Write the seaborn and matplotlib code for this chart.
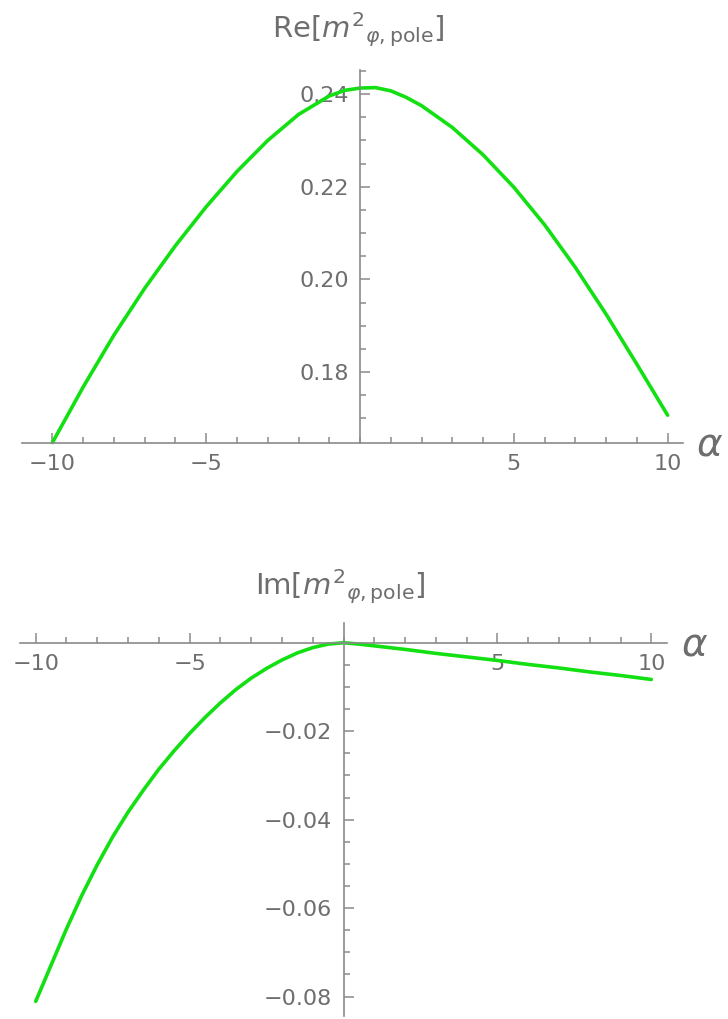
import numpy as np
import seaborn as sns
import matplotlib.pyplot as plt
from matplotlib.ticker import FixedLocator

# values
alpha_re = [-10, -9, -8, -7, -6, -5, -4, -3, -2, -1, -0.5, 0, 0.5, 1, 1.5, 2,
            3, 4, 5, 6, 7, 8, 9, 10]
re_pole = [0.1648, 0.1768, 0.1880, 0.1981, 0.2073, 0.2157, 0.2233, 0.2300, 0.2356, 0.2396,
           0.2408, 0.2413, 0.2414, 0.2407, 0.2393, 0.2375, 0.2328, 0.2269, 0.2199, 0.2118,
           0.2026, 0.1925, 0.1817, 0.1707]

alpha_im = [-10, -9.5, -9, -8.5, -8, -7.5, -7, -6.5, -6, -5.5, -5, -4.5, -4, -3.5, -3, -2.5,
            -2, -1.5, -1, -0.5, 0, 0.5, 1, 2, 3, 4, 5, 6, 7, 8, 9, 10]
im_pole = [-0.0811, -0.0729, -0.0647, -0.0571, -0.0502, -0.0439, -0.0383, -0.0333, -0.0286,
           -0.0244, -0.0205, -0.0169, -0.0136, -0.0106, -0.0080, -0.0058, -0.0039, -0.0023,
           -0.0011, -0.0003, 0.0, -0.0003, -0.0007, -0.0015, -0.0024, -0.0032, -0.0040,
           -0.0049, -0.0057, -0.0066, -0.0074, -0.0083]

x_major = [-10, -5, 5, 10]
x_labels = ['\u221210', '\u22125', '5', '10']
re_ticks = [0.18, 0.20, 0.22, 0.24]
im_ticks = [-0.02, -0.04, -0.06, -0.08]

sns.set_style('white')
plt.rcParams['font.family'] = ['DejaVu Sans']
plt.rcParams['mathtext.fontset'] = 'dejavusans'

axcol = '#8a8a8a'
txtcol = '#6e6e6e'
green = '#12e012'
W, H = 728, 1019

fig = plt.figure(figsize=(W / 100, H / 100), dpi=100)

def style_axes(ax):
    for s in ['top', 'right']:
        ax.spines[s].set_visible(False)
    for s in ['left', 'bottom']:
        ax.spines[s].set_color(axcol)
        ax.spines[s].set_linewidth(1.2)
    ax.spines['left'].set_position(('data', 0))
    ax.tick_params(which='both', direction='in', color=axcol, width=1.1,
                   bottom=True, left=True, labelcolor=txtcol, labelsize=16)
    ax.tick_params(which='major', length=7)
    ax.tick_params(which='minor', length=4)
    ax.tick_params(axis='x', pad=8)
    ax.tick_params(axis='y', pad=8)
    ax.xaxis.set_major_locator(FixedLocator(x_major))
    ax.set_xticklabels(x_labels)
    ax.xaxis.set_minor_locator(FixedLocator(list(range(-10, 11))))
    ax.set_xlabel('')
    ax.set_ylabel('')
    ax.patch.set_alpha(0)

# top panel: real part
ax1 = fig.add_axes([22 / W, 1 - 443 / H, 661 / W, 373 / H])
sns.lineplot(x=alpha_re, y=re_pole, ax=ax1, color=green, lw=2.6, clip_on=False)
ax1.set_xlim(-10.99, 10.5)
ax1.set_ylim(0.1647, 0.2452)
style_axes(ax1)
ax1.set_yticks(re_ticks, ['%.2f' % v for v in re_ticks])
ax1.yaxis.set_minor_locator(FixedLocator(list(np.arange(0.170, 0.2451, 0.005))))
fig.text(358 / W, 1 - 30 / H, r'Re$[m^2{}_{\varphi,\mathrm{pole}}]$',
         ha='center', va='center', fontsize=21, color=txtcol)
fig.text(710 / W, 1 - 445 / H, r'$\alpha$', ha='center', va='center',
         fontsize=28, color=txtcol)

# bottom panel: imaginary part
ax2 = fig.add_axes([20 / W, 1 - 1016 / H, 647 / W, (1016 - 623.3) / H])
sns.lineplot(x=alpha_im, y=im_pole, ax=ax2, color=green, lw=2.6, clip_on=False)
ax2.set_xlim(-10.51, 10.51)
ax2.set_ylim(-0.0844, 0.0044)
style_axes(ax2)
ax2.spines['bottom'].set_position(('data', 0))
ax2.set_yticks(im_ticks, ['\u2212%.2f' % abs(v) for v in im_ticks])
ax2.yaxis.set_minor_locator(FixedLocator(list(np.arange(-0.080, 0.0, 0.005))))
fig.text(340 / W, 1 - 587 / H, r'Im$[m^2{}_{\varphi,\mathrm{pole}}]$',
         ha='center', va='center', fontsize=21, color=txtcol)
fig.text(695 / W, 1 - 645 / H, r'$\alpha$', ha='center', va='center',
         fontsize=28, color=txtcol)

fig.savefig('out.png', dpi=100)
